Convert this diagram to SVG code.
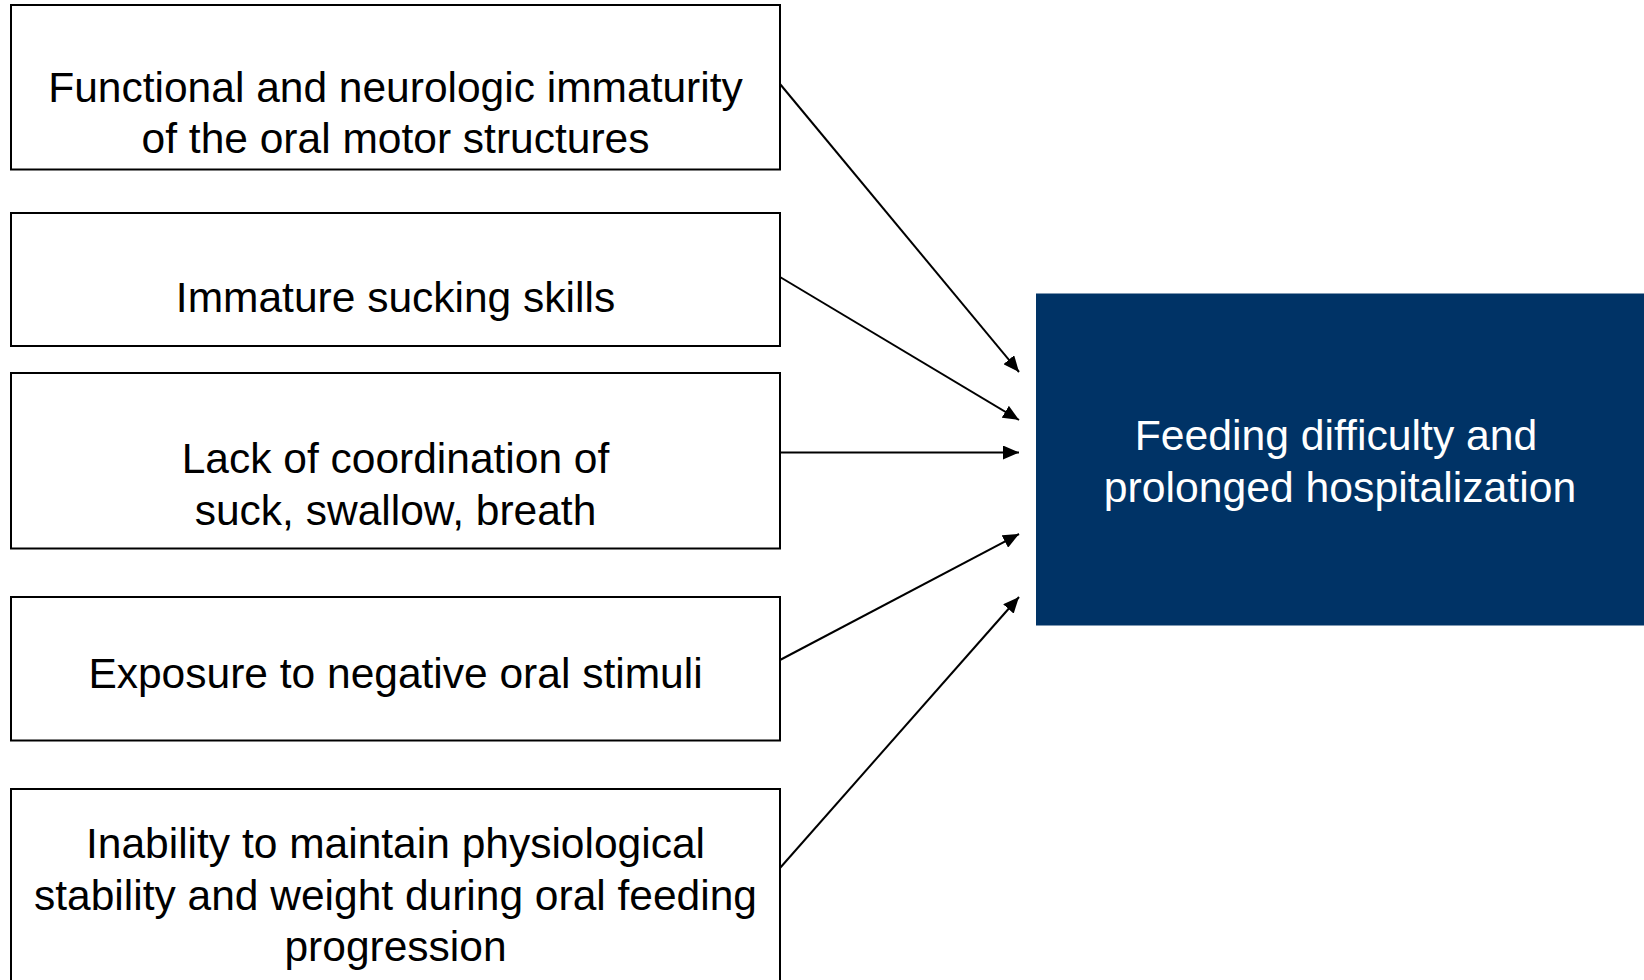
<svg xmlns="http://www.w3.org/2000/svg" width="1644" height="980" viewBox="0 0 1644 980">
  <style>
    .box { fill: #ffffff; stroke: #000000; stroke-width: 2; }
    .lbl { font-family: "Liberation Sans", Arial, sans-serif; font-size: 42.5px; fill: #000000; text-anchor: middle; }
    .target { fill: #003366; }
    .tlbl { font-family: "Liberation Sans", Arial, sans-serif; font-size: 42.7px; fill: #ffffff; text-anchor: middle; }
    .conn { stroke: #000000; stroke-width: 2; fill: none; marker-end: url(#arrow); }
  </style>
  <defs>
    <marker id="arrow" markerUnits="userSpaceOnUse" markerWidth="16" markerHeight="14" refX="16" refY="7" orient="auto">
      <path d="M0,0 L16,7 L0,14 z" fill="#000000"/>
    </marker>
  </defs>
  <rect width="1644" height="980" fill="#ffffff"/>

  <g id="node-immaturity">
    <rect class="box" x="11" y="5" width="769" height="164.5"/>
    <text class="lbl" x="395.5" y="101.7">Functional and neurologic immaturity</text>
    <text class="lbl" x="395.5" y="153.2">of the oral motor structures</text>
  </g>

  <g id="node-sucking">
    <rect class="box" x="11" y="213" width="769" height="133"/>
    <text class="lbl" x="395.5" y="312">Immature sucking skills</text>
  </g>

  <g id="node-coordination">
    <rect class="box" x="11" y="373" width="769" height="175.5"/>
    <text class="lbl" x="395.5" y="473">Lack of coordination of</text>
    <text class="lbl" x="395.5" y="524.5">suck, swallow, breath</text>
  </g>

  <g id="node-stimuli">
    <rect class="box" x="11" y="597" width="769" height="143.5"/>
    <text class="lbl" x="395.5" y="688">Exposure to negative oral stimuli</text>
  </g>

  <g id="node-stability">
    <rect class="box" x="11" y="789" width="769" height="200"/>
    <text class="lbl" x="395.5" y="858">Inability to maintain physiological</text>
    <text class="lbl" x="395.5" y="909.5">stability and weight during oral feeding</text>
    <text class="lbl" x="395.5" y="961">progression</text>
  </g>

  <g id="node-outcome">
    <rect class="target" x="1036" y="293.5" width="608" height="332"/>
    <text class="tlbl" x="1336" y="450">Feeding difficulty and</text>
    <text class="tlbl" x="1340" y="501.5">prolonged hospitalization</text>
  </g>

  <g id="connectors">
    <line class="conn" x1="780" y1="84" x2="1019" y2="372"/>
    <line class="conn" x1="780" y1="277" x2="1019" y2="420"/>
    <line class="conn" x1="780" y1="452.5" x2="1019" y2="452.5"/>
    <line class="conn" x1="780" y1="660" x2="1019" y2="534"/>
    <line class="conn" x1="780" y1="868" x2="1019" y2="597"/>
  </g>
</svg>
